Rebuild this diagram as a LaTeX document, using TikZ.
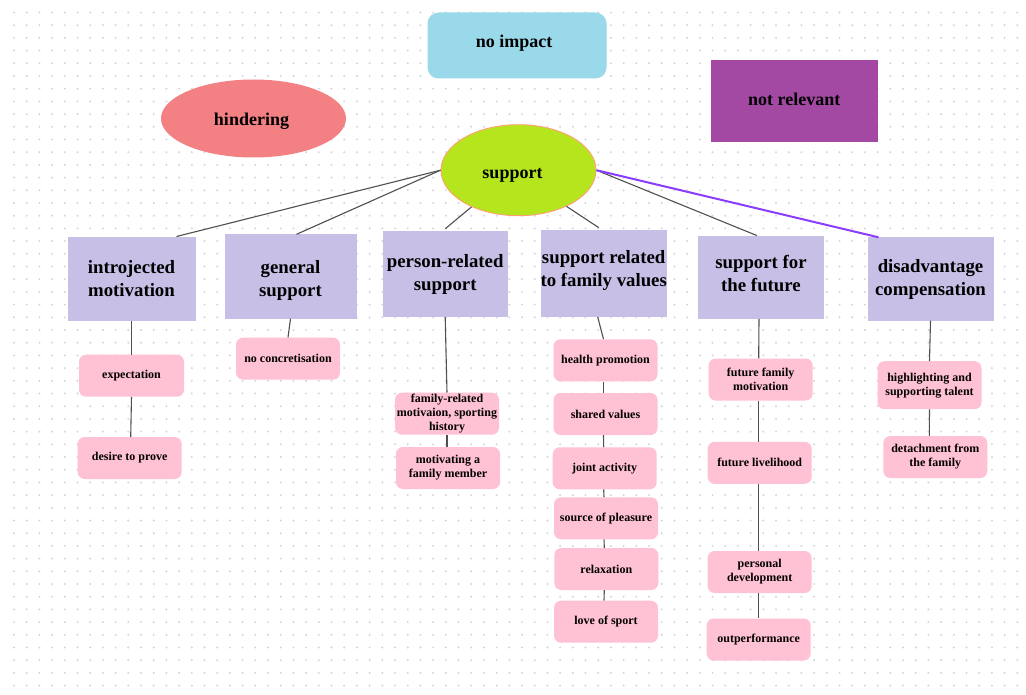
\documentclass[tikz,border=0pt]{standalone}
\usepackage{fontspec}
\setmainfont{Liberation Serif}
\usetikzlibrary{shapes.geometric,calc}
\definecolor{lav}{RGB}{200,191,231}
\definecolor{leafpink}{RGB}{255,193,212}
\definecolor{noimp}{RGB}{153,217,234}
\definecolor{notrel}{RGB}{163,73,164}
\definecolor{hind}{RGB}{243,128,131}
\definecolor{limec}{RGB}{181,230,29}
\definecolor{suppborder}{RGB}{255,160,110}
\definecolor{linkc}{RGB}{80,80,80}
\definecolor{violetlink}{RGB}{138,60,255}
\definecolor{dotc}{RGB}{212,212,218}
\begin{document}
\begin{tikzpicture}[x=1pt,y=-1pt,
  cat/.style={fill=lav, draw=none, inner sep=0pt, align=center,
    font=\bfseries\fontsize{18.8}{23}\selectfont, minimum width=126pt, minimum height=85pt},
  catlabel/.style={inner sep=0pt, align=center, font=\bfseries\fontsize{18.8}{23}\selectfont},
  leaf/.style={fill=leafpink, rounded corners=7pt, inner sep=0pt, align=center,
    font=\bfseries\fontsize{12}{14}\selectfont, minimum width=104pt, minimum height=42pt},
  top/.style={inner sep=0pt, align=center, font=\bfseries\fontsize{18}{22}\selectfont},
  toplabel/.style={inner sep=0pt, font=\bfseries\fontsize{18}{22}\selectfont},
  link/.style={draw=linkc, line width=1.1pt},
  vlink/.style={draw=violetlink, line width=2pt}]
\useasboundingbox (0,0) rectangle (1026,695);
\fill[white] (0,0) rectangle (1026,695);
% dotted grid
\foreach \i in {0,...,79}{
  \foreach \j in {0,...,53}{
    \fill[dotc] (14+\i*12.7, 12.5+\j*12.7) circle (1.1pt);
  }
}
% top nodes
\node[top, fill=noimp, rounded corners=11pt, minimum width=179pt, minimum height=66pt,
  label={[toplabel,xshift=-3pt,yshift=2pt]center:no impact}] (noimpact) at (517,45.5) {};
\node[top, fill=hind, ellipse, minimum width=185pt, minimum height=78pt,
  label={[toplabel,xshift=-2pt,yshift=-3pt]center:hindering}] (hindering) at (253.5,118.5) {};
\node[top, fill=notrel, minimum width=167pt, minimum height=82pt,
  label={[toplabel,yshift=2pt]center:not relevant}] (notrelevant) at (794.3,101.5) {};
\node[top, fill=limec, draw=suppborder, line width=0.9pt, ellipse, minimum width=155pt, minimum height=91pt,
  label={[toplabel,xshift=-6pt,yshift=-5pt]center:support}] (support) at (518.5,170.2) {};
% categories
\node[cat, minimum width=128pt, minimum height=84pt] (intro) at (131.5,278.7) {introjected\\motivation};
\node[cat, minimum width=132pt, minimum height=84pt,
  label={[catlabel,yshift=-4pt]center:general\\support}] (general) at (290.5,276.5) {};
\node[cat, minimum width=125pt, minimum height=86pt] (person) at (445.2,274) {person-related\\support};
\node[cat, minimum width=126pt, minimum height=87pt,
  label={[catlabel,yshift=3pt]center:support related\\to family values}] (family) at (603.7,273.3) {};
\node[cat, minimum width=126pt, minimum height=83pt,
  label={[catlabel,yshift=4pt]center:support for\\the future}] (future) at (761,277.3) {};
\node[cat, minimum width=126pt, minimum height=83pt] (disadv) at (930.5,279) {disadvantage\\compensation};
% leaves
\node[leaf, minimum width=105pt] (expect) at (131.5,375.7) {expectation};
\node[leaf] (desire) at (129.7,458) {desire to prove};
\node[leaf] (noconc) at (288,358.7) {no concretisation};
\node[leaf] (famrel) at (447,413.7) {family-related\\motivaion, sporting\\history};
\node[leaf] (motiv) at (448,468) {motivating a\\family member};
\node[leaf] (health) at (605.5,360.3) {health promotion};
\node[leaf] (shared) at (605.5,414) {shared values};
\node[leaf] (joint) at (604.7,468.3) {joint activity};
\node[leaf] (pleasure) at (606,518.3) {source of pleasure};
\node[leaf] (relax) at (606.3,569) {relaxation};
\node[leaf] (love) at (606,621.7) {love of sport};
\node[leaf] (ffm) at (760.7,379.5) {future family\\motivation};
\node[leaf] (livel) at (759.7,462.8) {future livelihood};
\node[leaf] (persdev) at (759.7,572) {personal\\development};
\node[leaf] (outperf) at (758.7,639.5) {outperformance};
\node[leaf, minimum height=48pt] (highl) at (929.5,385.2) {highlighting and\\supporting talent};
\node[leaf] (detach) at (935.3,457) {detachment from\\the family};
% connectors from support
\draw[link] (support.west) -- ([xshift=45pt]intro.north);
\draw[link] (support.west) -- ([xshift=6pt]general.north);
\draw[link] (support.218) -- ([yshift=2pt]person.north);
\draw[link] (support.323) -- ([xshift=-5pt,yshift=2pt]family.north);
\draw[link] (support.east) -- ([xshift=-4pt]future.north);
\draw[vlink] (support.east) -- ([xshift=-52pt]disadv.north);
% chains
\draw[link] (intro.south) -- (expect.north);
\draw[link] (expect.south) -- ([xshift=1pt]desire.north);
\draw[link] (general.south) -- (noconc.north);
\draw[link] (person.south) -- (famrel.north);
\draw[link] (famrel.south) -- ([xshift=-1pt]motiv.north);
\draw[link] ([xshift=-6pt]family.south) -- ([xshift=-2pt]health.north);
\draw[link] ([xshift=-2pt]health.south) -- ([xshift=-2pt]shared.north);
\draw[link] ([xshift=-2pt]shared.south) -- ([xshift=-1pt]joint.north);
\draw[link] ([xshift=-1pt]joint.south) -- ([xshift=-2pt]pleasure.north);
\draw[link] ([xshift=-2pt]pleasure.south) -- ([xshift=-2pt]relax.north);
\draw[link] ([xshift=-2pt]relax.south) -- ([xshift=-2pt]love.north);
\draw[link] ([xshift=-2pt]future.south) -- ([xshift=-2pt]ffm.north);
\draw[link] ([xshift=-2pt]ffm.south) -- ([xshift=-1pt]livel.north);
\draw[link] ([xshift=-1pt]livel.south) -- ([xshift=-1pt]persdev.north);
\draw[link] ([xshift=-1pt]persdev.south) -- (outperf.north);
\draw[link] (disadv.south) -- (highl.north);
\draw[link] (highl.south) -- ([xshift=-6pt]detach.north);
\end{tikzpicture}
\end{document}
